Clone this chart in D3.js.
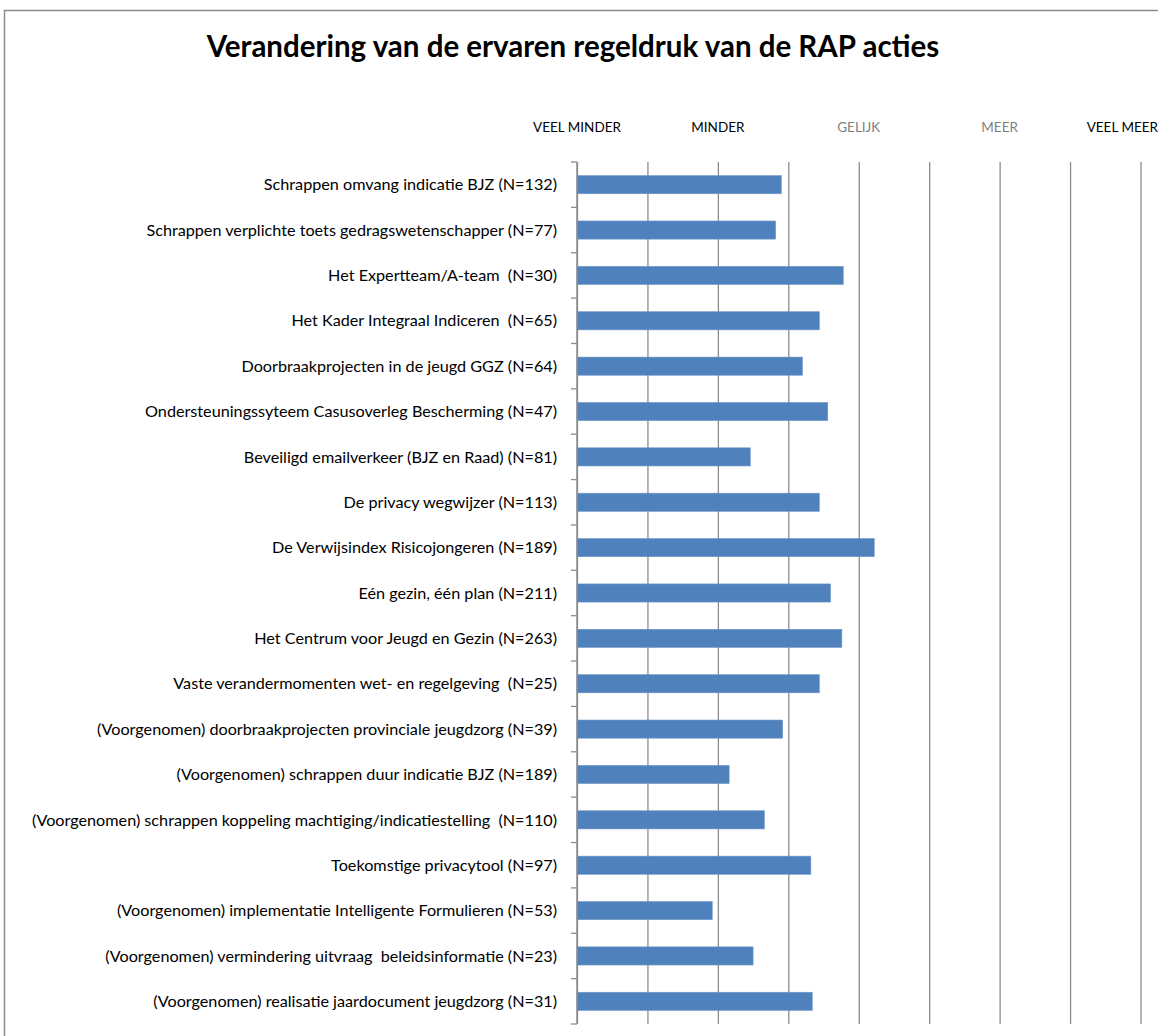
<!DOCTYPE html>
<html>
<head>
<meta charset="utf-8">
<script src="https://cdn.jsdelivr.net/npm/d3@7"></script>
<style>
  body { margin: 0; background: #fff; }
  text { font-family: Lato, "Open Sans", sans-serif; white-space: pre; }
</style>
</head>
<body>
<div id="chart"></div>
<script>
// categories, top to bottom
const categories = [
    "Schrappen omvang indicatie BJZ (N=132)",
    "Schrappen verplichte toets gedragswetenschapper (N=77)",
    "Het Expertteam/A-team  (N=30)",
    "Het Kader Integraal Indiceren  (N=65)",
    "Doorbraakprojecten in de jeugd GGZ (N=64)",
    "Ondersteuningssyteem Casusoverleg Bescherming (N=47)",
    "Beveiligd emailverkeer (BJZ en Raad) (N=81)",
    "De privacy wegwijzer (N=113)",
    "De Verwijsindex Risicojongeren (N=189)",
    "Eén gezin, één plan (N=211)",
    "Het Centrum voor Jeugd en Gezin (N=263)",
    "Vaste verandermomenten wet- en regelgeving  (N=25)",
    "(Voorgenomen) doorbraakprojecten provinciale jeugdzorg (N=39)",
    "(Voorgenomen) schrappen duur indicatie BJZ (N=189)",
    "(Voorgenomen) schrappen koppeling machtiging/indicatiestelling  (N=110)",
    "Toekomstige privacytool (N=97)",
    "(Voorgenomen) implementatie Intelligente Formulieren (N=53)",
    "(Voorgenomen) vermindering uitvraag  beleidsinformatie (N=23)",
    "(Voorgenomen) realisatie jaardocument jeugdzorg (N=31)"
];

// mean score, 1 = veel minder ... 5 = veel meer
const values = [2.45, 2.41, 2.89, 2.72, 2.60, 2.78, 2.23, 2.72, 3.11, 2.80,
                2.88, 2.72, 2.46, 2.08, 2.33, 2.66, 1.96, 2.25, 2.67];

const scaleLabels = ["VEEL MINDER", "MINDER", "GELIJK", "MEER", "VEEL MEER"];
const scaleValues = [1, 2, 3, 4, 5];
const gridValues = [1, 1.5, 2, 2.5, 3, 3.5, 4, 4.5, 5];

const width = 1158;
const height = 1036;

const svg = d3.select('#chart')
    .append('svg')
    .attr('width', width)
    .attr('height', height);

// outer frame (only top and left edge visible)
svg.append('path')
    .attr('d', `M4.5,${height} V10.5 H${width}`)
    .attr('fill', 'none')
    .attr('stroke', '#8c8c8c')
    .attr('stroke-width', 1.5);

svg.append('text')
    .attr('x', 573)
    .attr('y', 57)
    .attr('text-anchor', 'middle')
    .style('font-size', '29.5px')
    .style('font-weight', 'bold')
    .text('Verandering van de ervaren regeldruk van de RAP acties');

const margin = { top: 162, bottom: 12, left: 577, right: 18 };
const plotW = width - margin.left - margin.right;
const plotH = height - margin.top - margin.bottom;

const chart = svg.append('g')
    .attr('transform', `translate(${margin.left},${margin.top})`);

const xScale = d3.scaleLinear()
    .domain([1, 5])
    .range([0, plotW + 0.5]);

const yScale = d3.scaleBand()
    .domain(categories)
    .range([0, plotH])
    .paddingInner(0.6)
    .paddingOuter(0.3);

// vertical gridlines
const xGrid = d3.axisTop()
    .scale(xScale)
    .tickValues(gridValues)
    .tickSize(-plotH)
    .tickFormat('');

chart.append('g')
    .classed('gridline', true)
    .call(xGrid)
    .call(g => g.select('.domain').remove())
    .call(g => g.selectAll('line').attr('stroke', '#8c8c8c').attr('stroke-width', 1.3));

// top scale labels
const labelColor = ['#000', '#000', '#7f7f7f', '#7f7f7f', '#000'];
chart.selectAll('.scale-label')
    .data(scaleLabels)
    .enter()
    .append('text')
    .classed('scale-label', true)
    .attr('x', (d, i) => i === 4 ? width - margin.left : xScale(scaleValues[i]))
    .attr('y', -30)
    .attr('text-anchor', (d, i) => i === 4 ? 'end' : 'middle')
    .attr('fill', (d, i) => labelColor[i])
    .style('font-size', '13.5px')
    .text(d => d);

// bars
chart.selectAll('.bar')
    .data(values)
    .enter()
    .append('rect')
    .classed('bar', true)
    .attr('x', xScale(1))
    .attr('y', (d, i) => yScale(categories[i]))
    .attr('width', d => xScale(d) - xScale(1))
    .attr('height', yScale.bandwidth())
    .attr('fill', '#4f81bd')
    .attr('stroke', '#6f97c9')
    .attr('stroke-width', 0.6);

// category axis with ticks at band boundaries
const bounds = d3.range(categories.length + 1).map(i => i * plotH / categories.length);

chart.append('line')
    .attr('x1', 0).attr('x2', 0)
    .attr('y1', 0).attr('y2', plotH)
    .attr('stroke', '#8c8c8c')
    .attr('stroke-width', 1.5);

chart.selectAll('.ytick')
    .data(bounds)
    .enter()
    .append('line')
    .classed('ytick', true)
    .attr('x1', -6).attr('x2', 0)
    .attr('y1', d => d).attr('y2', d => d)
    .attr('stroke', '#8c8c8c')
    .attr('stroke-width', 1.3);

chart.selectAll('.cat-label')
    .data(categories)
    .enter()
    .append('text')
    .classed('cat-label', true)
    .attr('x', -20)
    .attr('y', d => yScale(d) + yScale.bandwidth() / 2)
    .attr('dy', '0.35em')
    .attr('text-anchor', 'end')
    .style('font-size', '16.2px')
    .attr('fill', '#000')
    .text(d => d);
</script>
</body>
</html>
